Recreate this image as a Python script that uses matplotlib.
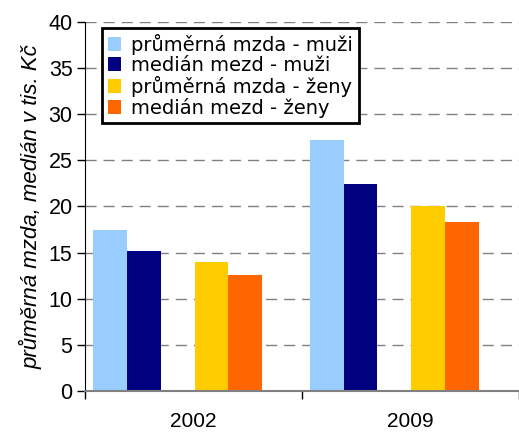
import numpy as np
import matplotlib.pyplot as plt

# data
years = ['2002', '2009']
series = ['průměrná mzda - muži', 'medián mezd - muži',
          'průměrná mzda - ženy', 'medián mezd - ženy']
avg_men = [17.45, 27.2]
med_men = [15.17, 22.44]
avg_women = [13.97, 20.0]
med_women = [12.56, 18.3]
colors = ['#99ccff', '#000080', '#ffcc00', '#ff6600']

plt.rcParams['font.family'] = ['Liberation Sans', 'DejaVu Sans']

fig = plt.figure(figsize=(5.19, 4.32), dpi=100)
ax = fig.add_axes([0.1638, 0.0956, 0.8355, 0.8528])

# 6 slots per category, 3rd and 6th empty (like Excel)
w = 0.156
start = 0.037
slots = [0, 1, 3, 4]
vals = [avg_men, med_men, avg_women, med_women]
x = np.arange(len(years))
for s, v, col, lab in zip(slots, vals, colors, series):
    ax.bar(x + start + s * w, v, width=w, align='edge', color=col,
           label=lab, zorder=3, linewidth=0)

ax.set_xlim(0, 2)
ax.set_ylim(0, 40)
ax.set_yticks(np.arange(0, 41, 5))
ax.tick_params(axis='y', labelsize=15.5, length=6, width=1, direction='out', pad=3)
ax.set_xticks([0, 1, 2])
ax.set_xticklabels([])
ax.set_xticks(x + 0.5, minor=True)
ax.set_xticklabels(years, minor=True)
ax.tick_params(axis='x', which='major', length=6, width=1, color='black', direction='out')
ax.tick_params(axis='x', which='minor', length=0, labelsize=15, pad=15)

for yv in range(5, 41, 5):
    ax.axhline(yv, color='#808080', lw=1, ls=(0, (8, 5)), zorder=1)

for sp in ['top', 'right']:
    ax.spines[sp].set_visible(False)
ax.spines['left'].set_color('black')
ax.spines['bottom'].set_color('#808080')
ax.spines['bottom'].set_linewidth(1.5)
ax.spines['bottom'].set_zorder(4)

ax.set_ylabel('průměrná mzda, medián v tis. Kč', fontsize=16, style='italic', labelpad=4)

leg = ax.legend(loc='upper left', bbox_to_anchor=(0.039, 0.985), borderaxespad=0,
                fancybox=False, framealpha=1, edgecolor='black', borderpad=0.3,
                labelspacing=0.05, handlelength=0.7, handleheight=0.7,
                handletextpad=0.5, prop={'family': 'DejaVu Sans', 'size': 14})
leg.get_frame().set_linewidth(2)
leg.set_zorder(5)

fig.savefig('out.png', dpi=100)
